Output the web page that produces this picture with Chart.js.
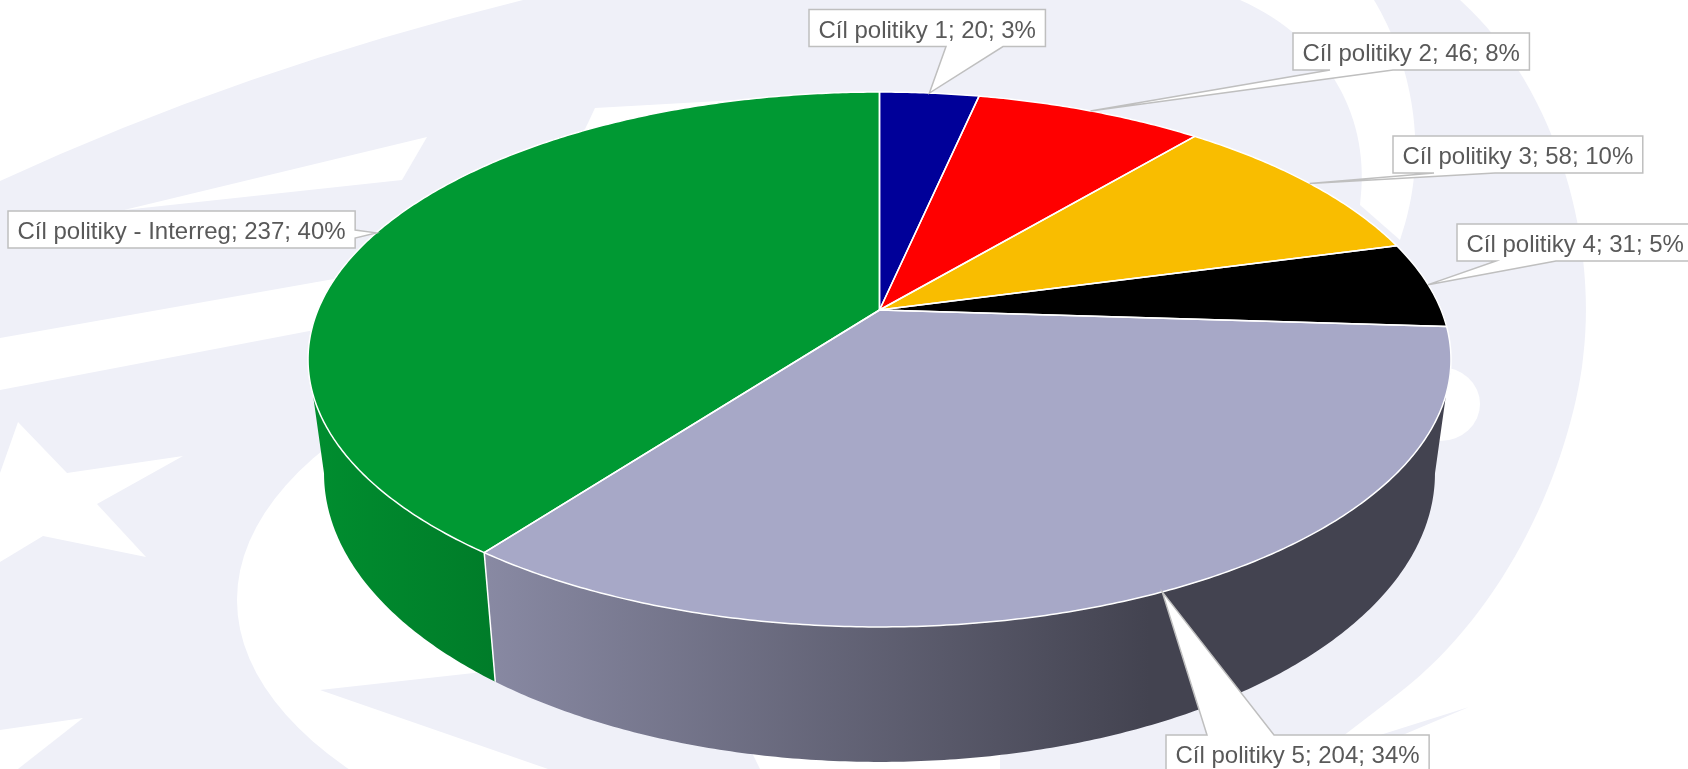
<!DOCTYPE html>
<html>
<head>
<meta charset="utf-8">
<script src="https://cdn.jsdelivr.net/npm/chart.js@4.4.0/dist/chart.umd.min.js"></script>
<style>
  html, body { margin: 0; padding: 0; background: #fff; overflow: hidden; }
  #wrap { position: relative; width: 1688px; height: 769px; }
</style>
</head>
<body>
<div id="wrap"><canvas id="chart"></canvas></div>
<script>
// ── Data ───────────────────────────────────────────────────────────────────
const CATEGORIES = ['Cíl politiky 1', 'Cíl politiky 2', 'Cíl politiky 3', 'Cíl politiky 4', 'Cíl politiky 5', 'Cíl politiky - Interreg'];
const VALUES     = [20, 46, 58, 31, 204, 237];
const COLORS     = ['#000099', '#FF0000', '#F9BD00', '#000000', '#A7A8C7', '#009933'];

// ── Look ───────────────────────────────────────────────────────────────────
const LAVENDER = '#EFF0F8';
const LABEL_FONT = '24px "Liberation Sans", Arial, sans-serif';
const LABEL_TEXT = '#595959';
const LABEL_LINE = '#BFBFBF';

// perspective pie: apex, radii, perspective factor, wall depth
const PIE = { cx: 879.5, cy: 310, rx: 561.6, ry: 258.3, persp: 0.185, depth: 110, shrink: 0.972 };

// callout boxes: where each box sits and where its pointer leaves the box
const CALLOUTS = [
  { x: 809,  y: 9.5, side: 'bottom', b0: 137, b1: 194 },
  { x: 1293, y: 33,  side: 'bottom', b0: 37,  b1: 100 },
  { x: 1393, y: 136, side: 'bottom', b0: 41,  b1: 102 },
  { x: 1457, y: 224, side: 'bottom', b0: 39,  b1: 99 },
  { x: 1166, y: 735, side: 'top',    b0: 41,  b1: 108 },
  { x: 8,    y: 211, side: 'right',  b0: 19,  b1: 27 },
];

// ── Helpers ────────────────────────────────────────────────────────────────

function proj(a, bottom) {
  const v = Math.cos(a), u = Math.sin(a), w = 1 - PIE.persp * u;
  if (!bottom) return [PIE.cx + PIE.rx * v / w, PIE.cy + PIE.ry * u / w];
  return [PIE.cx + PIE.shrink * PIE.rx * v / w, PIE.cy + (PIE.ry * u + PIE.depth) / w];
}

function shade(hex, f) {
  const n = parseInt(hex.slice(1), 16);
  const r = Math.round(((n >> 16) & 255) * f), g = Math.round(((n >> 8) & 255) * f), b = Math.round((n & 255) * f);
  return `rgb(${r},${g},${b})`;
}

function arcPoints(a0, a1, bottom) {
  const pts = [];
  const steps = Math.max(2, Math.ceil(Math.abs(a1 - a0) / (Math.PI / 360)));
  for (let i = 0; i <= steps; i++) pts.push(proj(a0 + (a1 - a0) * i / steps, bottom));
  return pts;
}

function poly(ctx, pts) {
  ctx.beginPath();
  ctx.moveTo(pts[0][0], pts[0][1]);
  for (let i = 1; i < pts.length; i++) ctx.lineTo(pts[i][0], pts[i][1]);
  ctx.closePath();
}

// ── Plugins ────────────────────────────────────────────────────────────────

const backdrop = {
  id: 'backdrop',
  beforeDraw(chart) {
    const ctx = chart.ctx, W = chart.width, H = chart.height;
    ctx.save();
    ctx.fillStyle = LAVENDER;
    ctx.fillRect(0, 0, W, H);
    ctx.fillStyle = '#fff';

    ctx.beginPath(); ctx.moveTo(0, 0); ctx.lineTo(523, 0); ctx.quadraticCurveTo(240, 70, 0, 181); ctx.closePath(); ctx.fill();
    poly(ctx, [[124, 210], [427, 137], [402, 180]]); ctx.fill();
    poly(ctx, [[0, 338], [430, 262], [430, 308], [0, 390]]); ctx.fill();
    poly(ctx, [[18, 422], [67, 473], [183, 456], [97, 504], [146, 557], [43, 536], [0, 562], [0, 473]]); ctx.fill();
    poly(ctx, [[0, 730], [83, 718], [18, 769], [0, 769]]); ctx.fill();
    poly(ctx, [[579, 142], [595, 108], [880, 92], [880, 220]]); ctx.fill();

    ctx.save();
    ctx.beginPath(); ctx.rect(0, 0, 1000, H); ctx.clip();
    ctx.beginPath(); ctx.ellipse(880, 600, 643, 300, 0, 0, Math.PI * 2); ctx.fill();
    ctx.restore();

    ctx.fillStyle = LAVENDER;
    poly(ctx, [[320, 690], [700, 648], [760, 769], [548, 769]]); ctx.fill();
    ctx.fillStyle = '#fff';

    ctx.beginPath(); ctx.moveTo(1240, 0); ctx.lineTo(1374, 0);
    ctx.bezierCurveTo(1410, 60, 1432, 150, 1400, 240); ctx.lineTo(1360, 205);
    ctx.bezierCurveTo(1372, 120, 1330, 40, 1240, 0); ctx.closePath(); ctx.fill();

    ctx.beginPath(); ctx.moveTo(1460, 0);
    ctx.bezierCurveTo(1560, 90, 1600, 250, 1582, 367);
    ctx.bezierCurveTo(1565, 480, 1500, 620, 1390, 700);
    ctx.lineTo(1300, 769); ctx.lineTo(W, H); ctx.lineTo(W, 0); ctx.closePath(); ctx.fill();

    ctx.beginPath(); ctx.ellipse(1440, 404, 40, 37, 0, 0, Math.PI * 2); ctx.fill();

    ctx.fillStyle = LAVENDER;
    poly(ctx, [[1469, 707], [1322, 769], [1272, 769]]); ctx.fill();
    ctx.restore();
  },
};

const pie3d = {
  id: 'pie3d',
  beforeDatasetDraw(chart, args) {
    const ctx = chart.ctx;
    const arcs = chart.getDatasetMeta(args.index).data;
    const colors = chart.data.datasets[args.index].backgroundColor;
    const sil = Math.asin(PIE.persp);
    const xl = proj(Math.PI - sil)[0], xr = proj(sil)[0];
    const apex = [PIE.cx, PIE.cy];

    ctx.save();
    ctx.lineJoin = 'round';

    // side wall, front half only
    arcs.forEach((el, i) => {
      const s = Math.max(el.startAngle, sil), e = Math.min(el.endAngle, Math.PI - sil);
      if (e <= s) return;
      const g = ctx.createLinearGradient(xl, 0, xr, 0);
      g.addColorStop(0, shade(colors[i], 0.93));
      g.addColorStop(0.736, shade(colors[i], 0.4));
      g.addColorStop(1, shade(colors[i], 0.4));
      ctx.fillStyle = g;
      poly(ctx, arcPoints(s, e, false).concat(arcPoints(e, s, true)));
      ctx.fill();
    });
    ctx.strokeStyle = '#fff';
    ctx.lineWidth = 1.5;
    arcs.forEach(el => {
      const a = el.endAngle;
      if (a > sil && a < Math.PI - sil) {
        const t = proj(a, false), b = proj(a, true);
        ctx.beginPath(); ctx.moveTo(t[0], t[1]); ctx.lineTo(b[0], b[1]); ctx.stroke();
      }
    });

    // top face
    arcs.forEach((el, i) => {
      poly(ctx, [apex].concat(arcPoints(el.startAngle, el.endAngle, false)));
      ctx.fillStyle = colors[i];
      ctx.fill();
    });
    arcs.forEach(el => {
      poly(ctx, [apex].concat(arcPoints(el.startAngle, el.endAngle, false)));
      ctx.stroke();
    });
    ctx.restore();
    return false;
  },
};

const callouts = {
  id: 'callouts',
  afterDatasetsDraw(chart) {
    const ctx = chart.ctx;
    const arcs = chart.getDatasetMeta(0).data;
    const values = chart.data.datasets[0].data;
    const total = values.reduce((a, b) => a + b, 0);
    ctx.save();
    ctx.font = LABEL_FONT;
    ctx.lineJoin = 'miter';
    arcs.forEach((el, i) => {
      const c = CALLOUTS[i];
      const text = `${chart.data.labels[i]}; ${values[i]}; ${Math.round(values[i] / total * 100)}%`;
      const w = ctx.measureText(text).width + 19, h = 37;
      const L = c.x, T = c.y, R = c.x + w, B = c.y + h;
      const tip = proj((el.startAngle + el.endAngle) / 2, false);
      let pts;
      if (c.side === 'bottom') pts = [[L, T], [R, T], [R, B], [L + c.b1, B], tip, [L + c.b0, B], [L, B]];
      else if (c.side === 'top') pts = [[L, T], [L + c.b0, T], tip, [L + c.b1, T], [R, T], [R, B], [L, B]];
      else pts = [[L, T], [R, T], [R, T + c.b0], tip, [R, T + c.b1], [R, B], [L, B]];
      poly(ctx, pts);
      ctx.fillStyle = '#fff';
      ctx.fill();
      ctx.strokeStyle = LABEL_LINE;
      ctx.lineWidth = 1.5;
      ctx.stroke();
      ctx.fillStyle = LABEL_TEXT;
      ctx.textBaseline = 'alphabetic';
      ctx.fillText(text, L + 9.5, T + 28);
    });
    ctx.restore();
  },
};

// ── Bootstrap ──────────────────────────────────────────────────────────────

new Chart(document.getElementById('chart'), {
  type: 'pie',
  data: {
    labels: CATEGORIES,
    datasets: [{ data: VALUES, backgroundColor: COLORS, borderColor: '#fff', borderWidth: 1.5 }],
  },
  options: {
    responsive: true, maintainAspectRatio: false,
    animation: false,
    events: [],
    layout: { padding: 0 },
    plugins: { legend: { display: false }, tooltip: { enabled: false } },
  },
  plugins: [backdrop, pie3d, callouts],
});
</script>
</body>
</html>
